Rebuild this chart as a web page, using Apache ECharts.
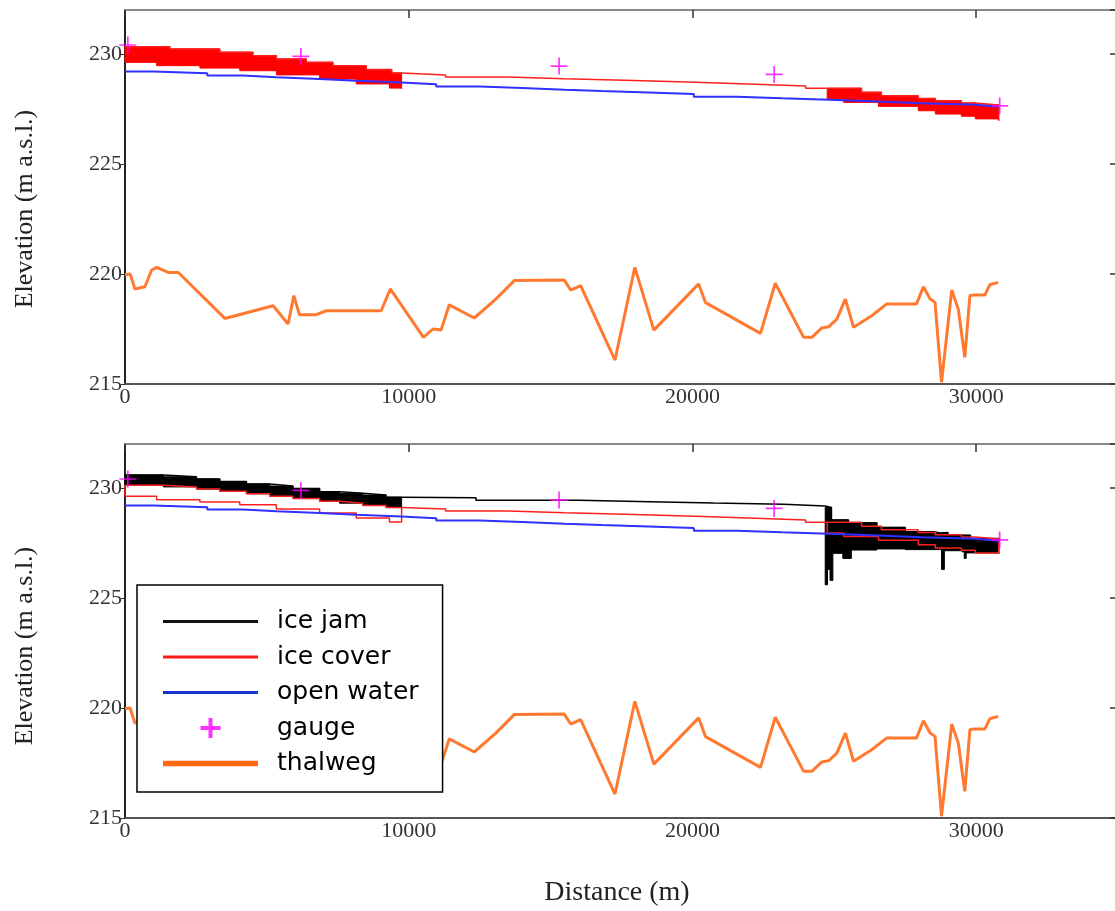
<!DOCTYPE html>
<html><head><meta charset="utf-8">
<script src="https://cdn.jsdelivr.net/npm/echarts@6/dist/echarts.min.js"></script>
<style>html,body{margin:0;padding:0;background:#fff}#c{width:1115px;height:911px}</style>
</head><body><div id="c"></div>
<script>
// ---------------- data (distance in m, elevation in m a.s.l.) ----------------
const xTicks = [0, 10000, 20000, 30000];
const yTicks = [215, 220, 225, 230];

const thalwegX = [0,180,350,700,940,1120,1520,1880,3520,5220,5750,5950,6150,6740,7090,9030,9350,10520,10850,11140,11430,12310,13070,13720,15480,15710,16060,17270,17970,18640,20220,20460,22400,22920,23920,24210,24560,24800,25090,25390,25680,26320,26850,27900,28140,28380,28550,28780,29140,29370,29600,29780,29960,30310,30480,30780];
const thalwegY = [219.97,220.0,219.32,219.42,220.18,220.3,220.07,220.07,217.98,218.56,217.73,219.02,218.15,218.15,218.33,218.33,219.32,217.12,217.5,217.45,218.6,218.0,218.86,219.7,219.73,219.27,219.47,216.09,220.3,217.45,219.55,218.7,217.3,219.58,217.12,217.12,217.55,217.6,217.95,218.86,217.58,218.1,218.64,218.64,219.42,218.86,218.71,215.08,219.27,218.41,216.21,219.02,219.05,219.05,219.51,219.62];

const openWaterX = [0,1000,2900,4150,5340,6860,8150,9740,10970,12500,14000,15500,16800,18180,20050,21560,23150,24800,26550,28070,29970,30800];
const openWaterY = [229.20,229.13,229.02,228.94,228.86,228.78,228.70,228.62,228.52,228.45,228.38,228.32,228.26,228.18,228.06,227.99,227.92,227.84,227.76,227.69,227.60,227.58];

// ice cover (top panel): upper edge, lower edges of the two thick reaches
const coverUpperX = [0,1580,3340,4510,5335,6390,7330,8500,9400,9750,11300,13500,15500,17940,20120,22230,23990,24750,25960,26660,27960,28560,29480,29970,30800];
const coverUpperY = [230.33,230.23,230.08,229.92,229.77,229.62,229.47,229.29,229.14,229.05,228.95,228.87,228.80,228.72,228.63,228.54,228.44,228.44,228.26,228.10,227.98,227.88,227.77,227.68,227.68];
const coverLowerLeftX = [0,1115,2640,4045,5335,6860,8150,9320,9750];
const coverLowerLeftY = [229.62,229.47,229.36,229.24,229.05,228.86,228.64,228.45,228.42];
const coverLowerRightX = [24750,25330,26560,27960,28560,29480,29970,30800];
const coverLowerRightY = [227.95,227.80,227.62,227.42,227.27,227.17,227.05,226.97];

// ice cover upper edge in the ice-jam run (bottom panel), upstream reach
const jamRunCoverX = [0,1350,2520,3340,4280,5100,5920,6860,7560,8380,9200,9750];
const jamRunCoverY = [230.12,230.05,229.95,229.85,229.74,229.63,229.52,229.40,229.31,229.21,229.11,229.05];

// ice jam: top edge (whole reach) and bottom edge of the downstream jam
const jamTopX = [0,1350,2520,3340,4280,5100,5920,6860,7560,8380,9200,9750,12370,16000,18500,20750,23210,24680,24900,25500,26500,27500,28500,28800,29000,29800,30800];
const jamTopY = [230.59,230.51,230.41,230.29,230.18,230.09,229.98,229.83,229.76,229.68,229.58,229.56,229.44,229.38,229.32,229.26,229.18,229.12,228.55,228.42,228.21,228.01,227.94,227.98,227.85,227.70,227.60];
const jamBottomX = [24680,24760,24850,24950,25300,25600,26500,27500,28700,28780,28880,29500,29580,29650,30800];
const jamBottomY = [225.60,226.30,225.80,227.03,226.80,227.18,227.23,227.20,227.20,226.30,227.15,227.10,226.80,227.05,227.00];

const gaugeX = [100, 6200, 15300, 22880, 30830];
const gaugeY = [230.41, 229.89, 229.45, 229.07, 227.64];

// ---------------- helpers ----------------
const pairs = (xs, ys) => xs.map((x, i) => [x, ys[i]]);
function valAt(xs, ys, x) { let v = ys[0]; for (let i = 0; i < xs.length; i++) if (xs[i] <= x) v = ys[i]; return v; }
function stepPts(xs, ys, x0, x1) {
  const p = [];
  for (let i = 0; i < xs.length; i++) {
    const a = xs[i], last = i === xs.length - 1;
    if (last) { if (a >= x0 && a <= x1) p.push([a, ys[i]]); continue; }
    const b = xs[i + 1];
    if (b <= x0 || a >= x1) continue;
    const s = Math.max(a, x0), e = Math.min(b, x1);
    p.push([s, ys[i]], [e, ys[i]]);
  }
  return p;
}
function band(topX, topY, botX, botY, x0, x1) {
  return stepPts(topX, topY, x0, x1).concat(stepPts(botX, botY, x0, x1).reverse());
}

const coverBands = [
  band(coverUpperX, coverUpperY, coverLowerLeftX, coverLowerLeftY, 0, 9750),
  band(coverUpperX, coverUpperY, coverLowerRightX, coverLowerRightY, 24750, 30800)
];
const jamBands = [
  band(jamTopX, jamTopY, jamRunCoverX, jamRunCoverY, 0, 9750),
  band(jamTopX, jamTopY, jamBottomX, jamBottomY, 24680, 30800)
];

const jamRunCoverUpper = pairs(jamRunCoverX, jamRunCoverY).filter(p => p[0] < 9750)
  .concat(pairs(coverUpperX, coverUpperY).filter(p => p[0] >= 9750));
const jamRunLoopLeft = [[0, jamRunCoverY[0]]].concat(pairs(coverLowerLeftX, coverLowerLeftY))
  .concat([[9750, jamRunCoverY[jamRunCoverY.length - 1]]]);
const jamRunLoopRight = [[24750, valAt(coverUpperX, coverUpperY, 24750)]].concat(pairs(coverLowerRightX, coverLowerRightY))
  .concat([[30800, valAt(coverUpperX, coverUpperY, 30800)]]);

// ---------------- styles ----------------
const C = { jam: '#000000', cover: '#ff1f1f', fill: '#ff0000', water: '#3030ff', gauge: '#ff00ff', thalweg: '#ff7a30' };
const serif = 'Liberation Serif';
const plusThin = 'path://M9,0H11V9H20V11H11V20H9V11H0V9H9Z';
const plusThick = 'path://M4,0H6V4H10V6H6V10H4V6H0V4H4Z';

function polySeries(bands, color, xi, yi, z) {
  return {
    type: 'custom', xAxisIndex: xi, yAxisIndex: yi, z: z, silent: true,
    data: [[0, 220]],
    renderItem: (params, api) => ({
      type: 'group',
      children: bands.map(b => ({
        type: 'polygon',
        shape: { points: b.map(p => api.coord(p)) },
        style: { fill: color, stroke: color, lineWidth: 1 }
      }))
    })
  };
}
const lineS = (name, data, color, width, xi, yi, z, step) => ({
  name, type: 'line', data, xAxisIndex: xi, yAxisIndex: yi, z,
  step: step ? 'end' : false, symbol: 'none', showSymbol: false, silent: true,
  color, lineStyle: { color, width }, animation: false
});
const gaugeS = (xi, yi) => ({
  name: 'gauge', type: 'scatter', data: pairs(gaugeX, gaugeY), xAxisIndex: xi, yAxisIndex: yi, z: 10,
  symbol: plusThin, symbolSize: 17, itemStyle: { color: C.gauge }, silent: true
});

function xAxes(gi) {
  return [
    { gridIndex: gi, type: 'value', position: 'bottom', min: 0, max: 35000, interval: 10000,
      axisLine: { show: true, onZero: false, lineStyle: { color: '#555', width: 2 } },
      axisTick: { show: false }, splitLine: { show: false },
      axisLabel: { fontFamily: serif, fontSize: 22, color: '#333', margin: 2, showMaxLabel: false,
        formatter: v => (xTicks.indexOf(v) >= 0 ? String(v) : '') } },
    { gridIndex: gi, type: 'value', position: 'top', min: 0, max: 35000, interval: 10000,
      axisLine: { show: true, onZero: false, lineStyle: { color: '#888', width: 2 } },
      axisTick: { show: true, inside: true, length: 8, lineStyle: { color: '#333', width: 1.5 } },
      splitLine: { show: false }, axisLabel: { show: false } }
  ];
}
function yAxes(gi) {
  return [
    { gridIndex: gi, type: 'value', position: 'left', min: 215, max: 232, interval: 5,
      axisLine: { show: true, onZero: false, lineStyle: { color: '#222', width: 2 } },
      axisTick: { show: true, length: 4, lineStyle: { color: '#333' } }, splitLine: { show: false },
      axisLabel: { fontFamily: serif, fontSize: 22, color: '#333', margin: 3, showMaxLabel: false,
        formatter: v => (yTicks.indexOf(v) >= 0 ? String(v) : '') } },
    { gridIndex: gi, type: 'value', position: 'right', min: 215, max: 232, interval: 5,
      axisLine: { show: true, onZero: false, lineStyle: { color: '#555', width: 2 } },
      axisTick: { show: true, inside: true, length: 8, lineStyle: { color: '#333', width: 1.5 } },
      splitLine: { show: false }, axisLabel: { show: false } }
  ];
}

const option = {
  animation: false,
  backgroundColor: '#fff',
  grid: [
    { left: 125, width: 993, top: 10, height: 374, outerBoundsMode: 'none', containLabel: false },
    { left: 125, width: 993, top: 444, height: 374, outerBoundsMode: 'none', containLabel: false }
  ],
  xAxis: xAxes(0).concat(xAxes(1)),
  yAxis: yAxes(0).concat(yAxes(1)),
  legend: {
    orient: 'vertical', left: 137, top: 585,
    itemWidth: 95, itemHeight: 20, itemGap: 10.5,
    padding: [24, 24, 16, 26],
    backgroundColor: '#fff', borderColor: '#000', borderWidth: 1.5, borderRadius: 0,
    textStyle: { fontFamily: 'DejaVu Sans', fontSize: 25, color: '#000', padding: [0, 0, 0, 14] },
    selectedMode: false, z: 20,
    data: [
      { name: 'ice jam', icon: 'path://M0,0H100V3.4H0Z', itemStyle: { color: '#111' } },
      { name: 'ice cover', icon: 'path://M0,0H100V3.4H0Z', itemStyle: { color: '#ff1a1a' } },
      { name: 'open water', icon: 'path://M0,0H100V3.4H0Z', itemStyle: { color: '#1537c8' } },
      { name: 'gauge', icon: plusThick, itemStyle: { color: '#ff00ff' } },
      { name: 'thalweg', icon: 'path://M0,0H100V6H0Z', itemStyle: { color: '#ff6a13' } }
    ]
  },
  graphic: [
    { type: 'text', x: 25, y: 209, rotation: Math.PI / 2,
      style: { text: 'Elevation (m a.s.l.)', font: '26px "Liberation Serif"', fill: '#222', textAlign: 'center', textVerticalAlign: 'middle' } },
    { type: 'text', x: 25, y: 646, rotation: Math.PI / 2,
      style: { text: 'Elevation (m a.s.l.)', font: '26px "Liberation Serif"', fill: '#222', textAlign: 'center', textVerticalAlign: 'middle' } },
    { type: 'text', x: 617, y: 893,
      style: { text: 'Distance (m)', font: '28px "Liberation Serif"', fill: '#222', textAlign: 'center', textVerticalAlign: 'middle' } }
  ],
  series: [
    // top panel: ice cover run
    lineS('thalweg', pairs(thalwegX, thalwegY), C.thalweg, 3, 0, 0, 2, false),
    polySeries(coverBands, C.fill, 0, 0, 3),
    lineS('ice cover', pairs(coverUpperX, coverUpperY), C.cover, 1.5, 0, 0, 4, true),
    lineS('open water', pairs(openWaterX, openWaterY), C.water, 2, 0, 0, 5, true),
    gaugeS(0, 0),
    // bottom panel: ice jam run
    lineS('thalweg', pairs(thalwegX, thalwegY), C.thalweg, 3, 2, 2, 2, false),
    polySeries(jamBands, C.jam, 2, 2, 3),
    lineS('ice jam', pairs(jamTopX, jamTopY), C.jam, 1.5, 2, 2, 3, true),
    lineS('ice cover', jamRunCoverUpper, C.cover, 1.5, 2, 2, 4, true),
    lineS('ice cover', jamRunLoopLeft, C.cover, 1.5, 2, 2, 4, true),
    lineS('ice cover', jamRunLoopRight, C.cover, 1.5, 2, 2, 4, true),
    lineS('open water', pairs(openWaterX, openWaterY), C.water, 2, 2, 2, 5, true),
    gaugeS(2, 2)
  ]
};
const chart = echarts.init(document.getElementById('c'), null, { renderer: 'canvas' });
chart.setOption(option);
</script>
</body></html>
